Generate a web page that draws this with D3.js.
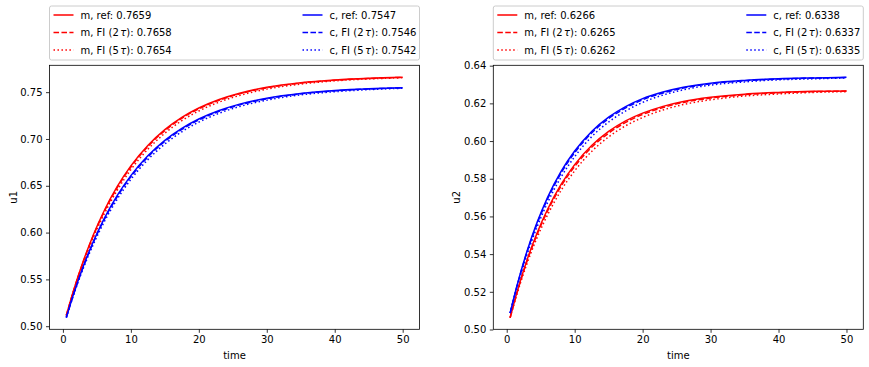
<!DOCTYPE html>
<html><head><meta charset="utf-8">
<script src="https://cdn.jsdelivr.net/npm/d3@7"></script>
<style>
body{margin:0;background:#fff;}
svg{display:block;font-family:"DejaVu Sans",sans-serif;}
</style></head>
<body><svg id="chart" width="869" height="367"></svg>
<script>
const times = [0.5, 1.5, 3, 4.5, 6, 8, 10, 12.5, 15, 17.5, 20, 23, 26, 30, 35, 40, 45, 50];

const u1_m_ref = [0.5115,0.5366,0.5696,0.5980,0.6223,0.6493,0.6713,0.6931,0.7100,0.7231,0.7331,0.7422,0.7489,0.7552,0.7601,0.7630,0.7648,0.7659];
const u1_m_fi2 = [0.5115,0.5363,0.5689,0.5971,0.6212,0.6481,0.6701,0.6919,0.7089,0.7221,0.7322,0.7414,0.7482,0.7547,0.7597,0.7627,0.7646,0.7658];
const u1_m_fi5 = [0.5115,0.5356,0.5674,0.5950,0.6187,0.6453,0.6672,0.6890,0.7061,0.7196,0.7299,0.7394,0.7465,0.7533,0.7586,0.7621,0.7641,0.7654];
const u1_c_ref = [0.5093,0.5328,0.5640,0.5908,0.6139,0.6397,0.6609,0.6820,0.6985,0.7113,0.7213,0.7304,0.7372,0.7435,0.7486,0.7517,0.7536,0.7547];
const u1_c_fi2 = [0.5093,0.5325,0.5634,0.5899,0.6128,0.6385,0.6597,0.6808,0.6973,0.7102,0.7203,0.7295,0.7364,0.7429,0.7482,0.7514,0.7534,0.7546];
const u1_c_fi5 = [0.5093,0.5318,0.5619,0.5878,0.6104,0.6358,0.6568,0.6779,0.6946,0.7077,0.7180,0.7275,0.7347,0.7415,0.7471,0.7505,0.7527,0.7542];

const u2_m_ref = [0.5062,0.5196,0.5370,0.5515,0.5637,0.5770,0.5875,0.5976,0.6051,0.6107,0.6148,0.6184,0.6210,0.6232,0.6249,0.6258,0.6264,0.6266];
const u2_m_fi2 = [0.5062,0.5193,0.5364,0.5507,0.5628,0.5760,0.5865,0.5967,0.6042,0.6099,0.6141,0.6178,0.6205,0.6228,0.6246,0.6256,0.6262,0.6265];
const u2_m_fi5 = [0.5062,0.5187,0.5351,0.5490,0.5607,0.5738,0.5842,0.5945,0.6022,0.6081,0.6125,0.6165,0.6194,0.6219,0.6239,0.6250,0.6258,0.6262];
const u2_c_ref = [0.5087,0.5231,0.5417,0.5571,0.5700,0.5839,0.5947,0.6051,0.6127,0.6183,0.6225,0.6260,0.6285,0.6307,0.6322,0.6331,0.6335,0.6338];
const u2_c_fi2 = [0.5087,0.5228,0.5412,0.5564,0.5692,0.5830,0.5938,0.6043,0.6119,0.6176,0.6219,0.6255,0.6281,0.6304,0.6320,0.6329,0.6334,0.6337];
const u2_c_fi5 = [0.5087,0.5222,0.5399,0.5547,0.5672,0.5809,0.5917,0.6023,0.6101,0.6160,0.6205,0.6244,0.6272,0.6297,0.6314,0.6325,0.6330,0.6335];

const xTicks = [0, 10, 20, 30, 40, 50];
const yTicks1 = [0.50, 0.55, 0.60, 0.65, 0.70, 0.75];
const yTicks2 = [0.50, 0.52, 0.54, 0.56, 0.58, 0.60, 0.62, 0.64];

const legend1 = [
  ["m, ref: 0.7659", null], ["m, FI (2", "): 0.7658"], ["m, FI (5", "): 0.7654"],
  ["c, ref: 0.7547", null], ["c, FI (2", "): 0.7546"], ["c, FI (5", "): 0.7542"]
];
const legend2 = [
  ["m, ref: 0.6266", null], ["m, FI (2", "): 0.6265"], ["m, FI (5", "): 0.6262"],
  ["c, ref: 0.6338", null], ["c, FI (2", "): 0.6337"], ["c, FI (5", "): 0.6335"]
];

const colors = ["#ff0000","#ff0000","#ff0000","#0000ff","#0000ff","#0000ff"];
const dashes = [null, "5.55,2.4", "1.5,2.475", null, "5.55,2.4", "1.5,2.475"];

const svg = d3.select("#chart");

function panel(cfg) {
  const {x0, x1, y0, y1, xDom, yDom, yTicks, series, ylabel, legend} = cfg;
  const x = d3.scaleLinear().domain(xDom).range([x0, x1]);
  const y = d3.scaleLinear().domain(yDom).range([y1, y0]);
  const g = svg.append("g");

  // curves
  const line = d3.line().x(d => x(d[0])).y(d => y(d[1])).curve(d3.curveMonotoneX);
  series.forEach((s, i) => {
    g.append("path")
      .attr("d", line(times.map((t, k) => [t, s[k]])))
      .attr("fill", "none")
      .attr("stroke", colors[i])
      .attr("stroke-width", 1.5)
      .attr("stroke-dasharray", dashes[i]);
  });

  // axes
  const xa = g.append("g").attr("transform", `translate(0,${y1})`)
    .call(d3.axisBottom(x).tickValues(xTicks).tickSize(3.5).tickPadding(3.5).tickFormat(d3.format("d")));
  const ya = g.append("g").attr("transform", `translate(${x0},0)`)
    .call(d3.axisLeft(y).tickValues(yTicks).tickSize(3.5).tickPadding(3.5).tickFormat(d3.format(".2f")));
  [xa, ya].forEach(a => {
    a.select(".domain").remove();
    a.selectAll("line").attr("stroke", "#000").attr("stroke-width", 0.8);
    a.selectAll("text").attr("fill", "#000").style("font-size", "10px").style("font-family", "DejaVu Sans");
  });

  g.append("rect").attr("x", x0).attr("y", y0).attr("width", x1 - x0).attr("height", y1 - y0)
    .attr("fill", "none").attr("stroke", "#000").attr("stroke-width", 0.8);

  g.append("text").attr("x", (x0 + x1) / 2).attr("y", 359).attr("text-anchor", "middle")
    .style("font-size", "10px").text("time");
  g.append("text").attr("transform", `translate(${x0 - 33},${(y0 + y1) / 2}) rotate(-90)`)
    .attr("text-anchor", "middle").style("font-size", "10px").text(ylabel);

  // legend
  const lx0 = x0, lx1 = x1, ly0 = 6, ly1 = 60;
  g.append("rect").attr("x", lx0).attr("y", ly0).attr("width", lx1 - lx0).attr("height", ly1 - ly0)
    .attr("rx", 2).attr("fill", "#fff").attr("fill-opacity", 0.8)
    .attr("stroke", "#cccccc").attr("stroke-width", 1);
  const rows = [15, 32.5, 50];
  legend.forEach((lab, i) => {
    const col = Math.floor(i / 3), row = i % 3;
    const hx = lx0 + 4 + col * 249;
    const yy = rows[row];
    g.append("line").attr("x1", hx).attr("x2", hx + 20).attr("y1", yy).attr("y2", yy)
      .attr("stroke", colors[i]).attr("stroke-width", 1.5).attr("stroke-dasharray", dashes[i]);
    const t = g.append("text").attr("x", hx + 27).attr("y", yy + 3.6).style("font-size", "10px");
    if (lab[1] === null) {
      t.text(lab[0]);
    } else {
      t.append("tspan").text(lab[0]);
      t.append("tspan").attr("dx", 1.5).style("font-style", "italic").text("τ");
      t.append("tspan").text(lab[1]);
    }
  });
}

panel({x0: 49.5, x1: 419.5, y0: 65.3, y1: 329.3, xDom: [-1.975, 52.475], yDom: [0.4967, 0.7787],
  yTicks: yTicks1, series: [u1_m_ref, u1_m_fi2, u1_m_fi5, u1_c_ref, u1_c_fi2, u1_c_fi5], ylabel: "u1", legend: legend1});
panel({x0: 493.3, x1: 863.3, y0: 65.3, y1: 329.3, xDom: [-1.975, 52.475], yDom: [0.5001, 0.6402],
  yTicks: yTicks2, series: [u2_m_ref, u2_m_fi2, u2_m_fi5, u2_c_ref, u2_c_fi2, u2_c_fi5], ylabel: "u2", legend: legend2});
</script></body></html>
